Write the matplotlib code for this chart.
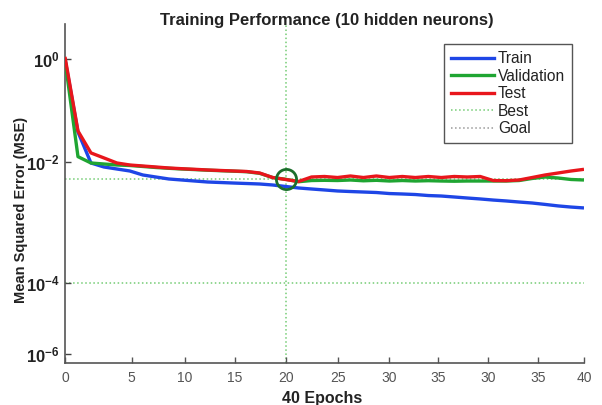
import numpy as np
import matplotlib
matplotlib.use("Agg")
import matplotlib.pyplot as plt
from matplotlib.lines import Line2D

plt.rcParams['font.family'] = ['Liberation Sans', 'DejaVu Sans']
plt.rcParams['mathtext.fontset'] = 'custom'
plt.rcParams['mathtext.rm'] = 'Liberation Sans:bold'
plt.rcParams['mathtext.bf'] = 'Liberation Sans:bold'
plt.rcParams['mathtext.it'] = 'Liberation Sans:bold'

# ---------------- data ----------------
epochs = list(range(41))
train = [1.0, 0.0383, 0.00963, 0.00827, 0.00766, 0.0071, 0.0061, 0.00565, 0.00524, 0.00504,
         0.00485, 0.00467, 0.00458, 0.00449, 0.00441, 0.00433, 0.00417, 0.00394, 0.00372, 0.00358,
         0.00345, 0.00332, 0.00325, 0.00319, 0.00313, 0.00301, 0.00296, 0.0029, 0.00279, 0.00274,
         0.00264, 0.00254, 0.00245, 0.00235, 0.00227, 0.00218, 0.0021, 0.00199, 0.00188, 0.0018,
         0.00174]
validation = [0.957, 0.0127, 0.00963, 0.00927, 0.00892, 0.00875, 0.00843, 0.00811, 0.00787, 0.00766,
              0.00749, 0.00732, 0.00718, 0.00705, 0.00691, 0.0065, 0.00554, 0.00518, 0.00472, 0.00494,
              0.00498, 0.00494, 0.00504, 0.00489, 0.00498, 0.00485, 0.00494, 0.00485, 0.00491, 0.00485,
              0.00481, 0.00485, 0.00485, 0.00485, 0.00485, 0.00494, 0.00534, 0.00565, 0.00544, 0.00514,
              0.00504]
test = [1.1, 0.040, 0.0150, 0.0120, 0.00963, 0.00892, 0.00859, 0.00827, 0.00796, 0.00775,
        0.00757, 0.00738, 0.00724, 0.0071, 0.00697, 0.00658, 0.00554, 0.00514, 0.00476, 0.00565,
        0.00576, 0.00554, 0.00587, 0.00554, 0.00587, 0.00554, 0.00576, 0.00554, 0.00576, 0.00554,
        0.00576, 0.00565, 0.00576, 0.00494, 0.00491, 0.00504, 0.00554, 0.0061, 0.00658, 0.0071,
        0.00757]
best_epoch = 17
best_value = 0.00518
goal_value = 1e-4
xtick_labels = ['0', '5', '10', '15', '20', '25', '30', '35', '30', '35', '40']
ytick_values = [1e0, 1e-2, 1e-4, 1e-6]
ytick_labels = [r'$\mathbf{10^{0}}$', r'$\mathbf{10^{-2}}$', r'$\mathbf{10^{-4}}$', r'$\mathbf{10^{-6}}$']

# ---------------- layout ----------------
xtick_pos = [0, 5.14, 9.22, 13.10, 17.03, 21.01, 24.96, 28.76, 32.61, 36.46, 40]

# piecewise log scale (decades are not evenly spaced in the reference)
LOGS = np.array([-7.0, -6.0, -4.0, -2.0, 0.0, 1.0])
H = np.array([9 - 35.5, 9.0, 80.0, 201.0, 304.0, 355.5])

def fwd(v):
    v = np.asarray(v, dtype=float)
    return np.interp(np.log10(np.clip(v, 1e-300, None)), LOGS, H)

def inv(h):
    return 10 ** np.interp(np.asarray(h, dtype=float), H, LOGS)

fig = plt.figure(figsize=(6.02, 4.05), dpi=100)
ax = fig.add_axes([65 / 602, 42 / 405, 519 / 602, 339 / 405])
ax.set_yscale('function', functions=(fwd, inv))

blue = '#1e46e6'
green = '#1fa532'
red = '#e8161c'
best_c = '#74cc74'

ax.axvline(best_epoch, color=best_c, ls=':', lw=1.1, zorder=1)
ax.axhline(best_value, color=best_c, ls=':', lw=1.1, zorder=1)
ax.axhline(goal_value, color=best_c, ls=':', lw=1.1, zorder=1)

ax.plot(epochs, train, color=blue, lw=2.4, zorder=3, solid_capstyle='butt')
ax.plot(epochs, validation, color=green, lw=2.4, zorder=4, solid_capstyle='butt')
ax.plot(epochs, test, color=red, lw=2.4, zorder=5, solid_capstyle='butt')
ax.plot([best_epoch], [best_value], marker='o', ms=14.5, mfc='none', mec='#1b6e2c', mew=2.0, zorder=6)

ax.set_xlim(0, 40)
ax.set_ylim(inv(0), inv(339))

ax.set_xticks(xtick_pos)
ax.set_xticklabels(xtick_labels)
ax.set_yticks(ytick_values)
ax.set_yticklabels(ytick_labels)
ax.yaxis.set_minor_locator(matplotlib.ticker.NullLocator())
ax.xaxis.set_minor_locator(matplotlib.ticker.NullLocator())
ax.tick_params(axis='x', direction='in', length=4, width=1, colors='#555555', labelsize=10, pad=6)
ax.tick_params(axis='y', direction='in', length=4, width=1, colors='#444444', labelsize=12, pad=4,
               labelcolor='#222222')

for s in ['top', 'right']:
    ax.spines[s].set_visible(False)
for s in ['left', 'bottom']:
    ax.spines[s].set_color('#555555')
    ax.spines[s].set_linewidth(1.2)

ax.set_ylabel('Mean Squared Error (MSE)', fontsize=10.5, fontweight='bold', color='#222222')
ax.yaxis.set_label_coords(-0.071, 0.451)
ax.set_xlabel('40 Epochs', fontsize=11.5, fontweight='bold', color='#222222')
ax.xaxis.set_label_coords(0.495, -0.082)

fig.text(327 / 602, 1 - 20 / 405, 'Training Performance (10 hidden neurons)', ha='center', va='center',
         fontsize=12, fontweight='bold', color='#222222')

handles = [Line2D([], [], color=blue, lw=2.4),
           Line2D([], [], color=green, lw=2.4),
           Line2D([], [], color=red, lw=2.4),
           Line2D([], [], color=best_c, ls=':', lw=1.1),
           Line2D([], [], color='#999999', ls=':', lw=1.1)]
leg = ax.legend(handles, ['Train', 'Validation', 'Test', 'Best', 'Goal'], loc='upper right',
                bbox_to_anchor=(0.9775, 0.940), borderaxespad=0, fontsize=11.2, handlelength=2.75,
                handletextpad=0.25, labelspacing=0.16, fancybox=False, framealpha=1,
                edgecolor='#555555', borderpad=0.45)
leg.get_frame().set_linewidth(1.0)
for t in leg.get_texts():
    t.set_color('#222222')

fig.savefig('out.png', dpi=100, facecolor='white')
